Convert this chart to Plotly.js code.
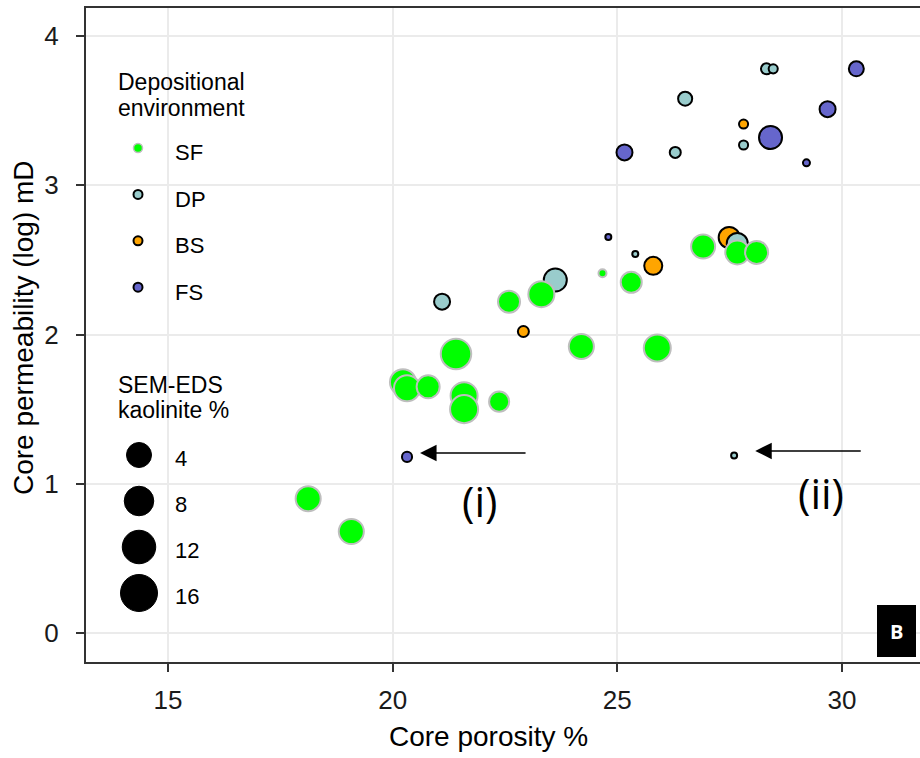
<!DOCTYPE html>
<html>
<head>
<meta charset="utf-8">
<script src="https://cdn.plot.ly/plotly-3.0.1.min.js"></script>
<style>
  html, body { margin: 0; padding: 0; background: #ffffff; }
  #chart { width: 920px; height: 758px; }
</style>
</head>
<body>
<div id="chart"></div>
<script>
// Core porosity (%), core permeability (log mD) and SEM-EDS kaolinite (%) per depositional environment
const sfPorosity = [18.12, 19.08, 20.23, 20.32, 20.79, 21.41, 21.59, 21.59, 22.37, 22.59, 23.31, 24.20, 25.89, 24.67, 25.31, 26.91, 27.67, 28.10];
const sfPerm     = [0.90, 0.68, 1.68, 1.64, 1.65, 1.87, 1.59, 1.50, 1.55, 2.22, 2.27, 1.92, 1.91, 2.41, 2.35, 2.59, 2.55, 2.55];
const sfKaol     = [9.8, 9.8, 10.6, 10.6, 8.3, 14.5, 11.4, 12.3, 6.3, 7.6, 10.6, 9.8, 11.4, 1.0, 6.9, 9.0, 9.0, 8.3];

const dpPorosity = [21.10, 23.62, 25.40, 27.67, 27.60, 26.29, 26.51, 27.81, 28.32, 28.47];
const dpPerm     = [2.22, 2.365, 2.54, 2.61, 1.19, 3.22, 3.58, 3.27, 3.78, 3.78];
const dpKaol     = [4.0, 8.3, 0.56, 6.9, 0.56, 1.9, 3.1, 1.3, 1.9, 1.3];

const bsPorosity = [22.91, 25.80, 27.49, 27.81];
const bsPerm     = [2.02, 2.46, 2.65, 3.41];
const bsKaol     = [1.9, 5.1, 6.9, 1.3];

const fsPorosity = [20.32, 24.80, 25.16, 28.41, 29.21, 29.68, 30.32];
const fsPerm     = [1.18, 2.653, 3.22, 3.32, 3.15, 3.51, 3.78];
const fsKaol     = [1.6, 0.25, 4.0, 8.3, 0.77, 4.0, 3.5];

const envNames = ['SF', 'DP', 'BS', 'FS'];
const kaolLegendValues = [4, 8, 12, 16];
const xTicks = [15, 20, 25, 30];
const yTicks = [0, 1, 2, 3, 4];

// Styling per environment
const envStyle = {
  SF: { fill: '#00FF00', line: '#BEBEBE', width: 2 },
  DP: { fill: '#99CCCC', line: '#000000', width: 2 },
  BS: { fill: '#FFA500', line: '#000000', width: 2 },
  FS: { fill: '#6666CC', line: '#000000', width: 2 }
};

// Figure geometry (pixels)
const W = 920, H = 758;
const M = { l: 86, r: 0, t: 8, b: 96 };
const plotW = W - M.l - M.r, plotH = H - M.t - M.b;
const px2paperX = px => (px - M.l) / plotW;
const py2paperY = py => (H - M.b - py) / plotH;

const FONT = 'Liberation Sans, Arial, sans-serif';

function bubbleTrace(name, xs, ys, ks) {
  const s = envStyle[name];
  return {
    type: 'scatter', mode: 'markers', name: name,
    x: xs, y: ys,
    marker: {
      size: ks, sizemode: 'area', sizeref: 0.03125, sizemin: 3,
      color: s.fill, opacity: 1,
      line: { color: s.line, width: s.width }
    },
    showlegend: false, hoverinfo: 'x+y+name'
  };
}

// Drawing order: FS, BS, DP below, SF on top
const traces = [
  bubbleTrace('FS', fsPorosity, fsPerm, fsKaol),
  bubbleTrace('BS', bsPorosity, bsPerm, bsKaol),
  bubbleTrace('DP', dpPorosity, dpPerm, dpKaol),
  bubbleTrace('SF', sfPorosity, sfPerm, sfKaol)
];

const shapes = [];
const annotations = [];

// Legend panels (white background hides gridlines)
function panel(x0, y0, x1, y1) {
  shapes.push({ type: 'rect', xref: 'paper', yref: 'paper', layer: 'between',
    x0: px2paperX(x0), x1: px2paperX(x1), y0: py2paperY(y1), y1: py2paperY(y0),
    fillcolor: '#ffffff', line: { width: 0 } });
}
panel(100, 50, 271, 314);
panel(100, 362, 251, 628);

function keyCircle(cx, cy, d, fill, line, lw) {
  shapes.push({ type: 'circle', xref: 'paper', yref: 'paper', layer: 'above',
    xsizemode: 'pixel', ysizemode: 'pixel',
    xanchor: px2paperX(cx), yanchor: py2paperY(cy),
    x0: -d / 2, x1: d / 2, y0: -d / 2, y1: d / 2,
    fillcolor: fill, line: { color: line, width: lw } });
}
function label(px, py, text, size, opts) {
  annotations.push(Object.assign({
    xref: 'paper', yref: 'paper', x: px2paperX(px), y: py2paperY(py),
    text: text, showarrow: false, xanchor: 'left', yanchor: 'middle',
    font: { family: FONT, size: size, color: '#000000' }
  }, opts || {}));
}

// Depositional environment legend
label(116, 82, 'Depositional', 23);
label(116, 108, 'environment', 23);
envNames.forEach((n, i) => {
  const cy = 148 + i * 46.4;
  const s = envStyle[n];
  keyCircle(138, cy, 9, s.fill, s.line, n === 'SF' ? 1.5 : 2);
  label(173, cy + 5, n, 22);
});

// Kaolinite size legend
label(116, 385, 'SEM-EDS', 23);
label(116, 410, 'kaolinite %', 23);
kaolLegendValues.forEach((v, i) => {
  const cy = 455 + i * 46;
  const d = Math.sqrt(377 + 62 * v);
  keyCircle(139, cy, d, '#000000', '#000000', 1);
  label(173, cy + 3, String(v), 22);
});

// Arrows pointing at the outlying samples
annotations.push({ xref: 'x', yref: 'y', x: 20.61, y: 1.206, ax: 107, ay: 0,
  text: '', showarrow: true, arrowhead: 2, arrowsize: 2.2, arrowwidth: 1.5, arrowcolor: '#000000', standoff: 0 });
annotations.push({ xref: 'x', yref: 'y', x: 28.07, y: 1.22, ax: 107, ay: 0,
  text: '', showarrow: true, arrowhead: 2, arrowsize: 2.2, arrowwidth: 1.5, arrowcolor: '#000000', standoff: 0 });
annotations.push({ xref: 'x', yref: 'y', x: 21.94, y: 0.89, text: '(i)', showarrow: false,
  font: { family: 'Open Sans, sans-serif', size: 42, color: '#000000' } });
annotations.push({ xref: 'x', yref: 'y', x: 29.53, y: 0.94, text: '(ii)', showarrow: false,
  font: { family: 'Open Sans, sans-serif', size: 42, color: '#000000' } });

// Panel tag
shapes.push({ type: 'rect', xref: 'paper', yref: 'paper', layer: 'above',
  x0: px2paperX(877), x1: px2paperX(916), y0: py2paperY(657), y1: py2paperY(605),
  fillcolor: '#000000', line: { width: 0 } });
label(896.5, 631, '<b>B</b>', 20, { xanchor: 'center',
  font: { family: 'Open Sans, sans-serif', size: 20, color: '#ffffff' } });

// Axis titles
label(488, 736, 'Core porosity %', 28, { xanchor: 'center' });
label(23, 328, 'Core permeability (log) mD', 28, { xanchor: 'center', textangle: -90 });

const layout = {
  width: W, height: H,
  margin: M,
  paper_bgcolor: '#ffffff', plot_bgcolor: '#ffffff',
  showlegend: false,
  xaxis: {
    range: [13.175, 31.737], tickmode: 'array', tickvals: xTicks,
    showgrid: true, gridcolor: '#EBEBEB', gridwidth: 2, zeroline: false,
    showline: true, linecolor: '#333333', linewidth: 2, mirror: true,
    ticks: 'outside', ticklen: 8, tickwidth: 2, tickcolor: '#333333',
    ticklabelstandoff: 6,
    tickfont: { family: FONT, size: 26, color: '#1a1a1a' }
  },
  yaxis: {
    range: [-0.1943, 4.1876], tickmode: 'array', tickvals: yTicks,
    showgrid: true, gridcolor: '#EBEBEB', gridwidth: 2, zeroline: false,
    showline: true, linecolor: '#333333', linewidth: 2, mirror: false,
    ticks: 'outside', ticklen: 8, tickwidth: 2, tickcolor: '#333333',
    ticklabelstandoff: 12,
    tickfont: { family: FONT, size: 26, color: '#1a1a1a' }
  },
  shapes: shapes,
  annotations: annotations
};

Plotly.newPlot('chart', traces, layout, { displayModeBar: false, staticPlot: true });
</script>
</body>
</html>
